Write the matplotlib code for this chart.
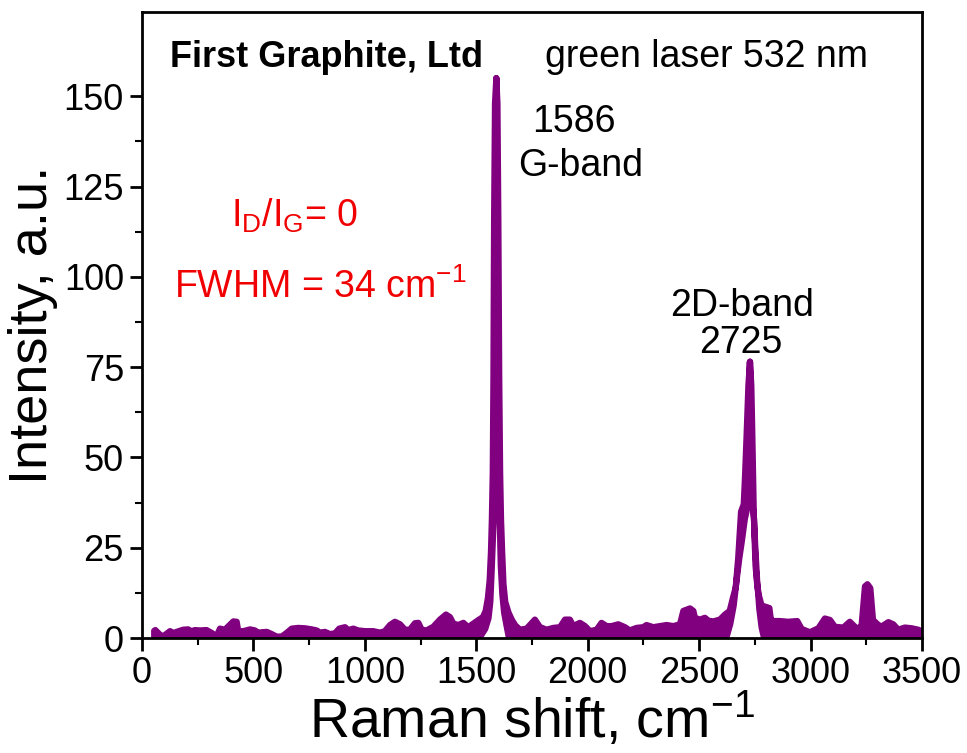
import matplotlib
matplotlib.use("Agg")
import matplotlib.pyplot as plt
import numpy as np

plt.rcParams.update({
    "font.family": "sans-serif",
    "font.sans-serif": ["Liberation Sans", "Arial", "DejaVu Sans"],
    "mathtext.fontset": "custom",
    "mathtext.rm": "Liberation Sans",
    "mathtext.it": "Liberation Sans",
})

PURPLE = "#800080"
RED = "#f00000"

# upper envelope of the noisy spectrum
upper_x = [55, 60, 81, 96, 126, 141, 185, 207, 222, 238, 260, 290, 313, 335, 350,
           372, 387, 410, 425, 432, 455, 485, 507, 522, 537, 560, 582, 604, 627, 649,
           672, 701, 731, 761, 784, 799, 821, 843, 866, 885, 911, 926, 948, 970, 1001,
           1038, 1068, 1090, 1113, 1135, 1158, 1180, 1202, 1225, 1240, 1255, 1277, 1307,
           1337, 1364, 1382, 1397, 1419, 1442, 1464, 1487, 1510, 1530, 1542, 1552, 1560,
           1566, 1570, 1574, 1577, 1580, 1584, 1590, 1595, 1599, 1603, 1607, 1611, 1616,
           1622, 1630, 1645, 1660, 1675, 1696, 1726, 1763, 1786, 1816, 1845, 1876, 1898,
           1920, 1935, 1965, 1988, 2010, 2040, 2062, 2085, 2107, 2137, 2167, 2189, 2219,
           2249, 2264, 2294, 2324, 2354, 2384, 2414, 2429, 2459, 2474, 2481, 2503, 2526,
           2541, 2563, 2593, 2616, 2637, 2651, 2664, 2675, 2683, 2688, 2700, 2706, 2714,
           2721, 2728, 2734, 2738, 2742, 2745, 2749, 2753, 2760, 2767, 2780, 2805, 2815,
           2822, 2832, 2860, 2900, 2940, 2960, 2997, 3035, 3064, 3087, 3109, 3147, 3176,
           3199, 3214, 3229, 3244, 3255, 3268, 3280, 3304, 3319, 3349, 3371, 3393, 3423,
           3453, 3483, 3500]
upper_y = [2.0, 2.2, 0.9, 0.5, 1.9, 1.4, 2.3, 2.4, 1.9, 2.2, 2.1, 2.2, 1.4, 0.5, 2.6,
           2.3, 3.2, 4.6, 4.5, 1.9, 1.9, 2.4, 2.1, 1.4, 1.6, 1.7, 1.1, 0.4, 0.4, 1.4,
           2.6, 2.8, 2.7, 2.4, 2.1, 1.5, 1.7, 1.1, 1.3, 2.6, 3.0, 2.2, 2.6, 2.1, 1.9,
           1.9, 1.5, 1.9, 3.6, 4.5, 3.8, 2.3, 2.3, 4.1, 4.2, 2.3, 2.1, 3.1,
           5.1, 6.5, 5.8, 4.0, 3.6, 4.2, 3.0, 4.0, 5.0, 5.8, 7.5, 11, 16,
           24, 33, 46, 72, 116, 148, 155, 148, 116, 72, 46, 33, 24,
           15, 10, 7.0, 5.0, 3.5, 2.3, 2.6, 5.1, 3.0, 2.3, 2.8, 3.0, 5.1,
           5.1, 3.3, 4.2, 3.3, 1.9, 2.3, 4.2, 3.3, 3.3, 3.8, 3.0, 2.1, 2.8,
           3.0, 3.6, 3.0, 3.3, 3.6, 3.3, 3.8, 7.5, 8.2, 7.5, 5.6, 5.1, 5.6,
           4.8, 4.6, 5.1, 6.5, 7.5, 11, 14, 22, 30, 35, 37, 45, 58,
           70, 76.5, 70, 58, 45, 35, 27, 20, 15, 12, 9.0, 8.5, 8.3,
           5.0, 4.7, 4.7, 4.5, 4.7, 2.5, 1.6, 2.7, 5.4, 5.0, 3.1, 2.9, 4.5,
           3.1, 2.5, 3.6, 14.3, 14.9, 13.8, 5.0, 3.6, 3.2, 4.4, 3.8, 2.3, 2.9,
           2.7, 2.3, 1.8]

# lower envelope of the noise band
lower_x = [55, 1517, 1540, 1555, 1563, 1570, 1578, 1582, 1585, 1590, 1594, 1598, 1605,
           1610, 1617, 1625, 1634, 1645, 2450, 2455, 2465, 2470, 2605, 2624, 2640, 2655,
           2668, 2680, 2692, 2705, 2716, 2722, 2728, 2733, 2741, 2746, 2752, 2760, 2770,
           2780, 2790, 3500]
lower_y = [0, 0.3, 2.5, 5.5, 10, 20, 33, 72, 116, 155, 116, 72, 33,
           20, 12, 7, 4, 0.5, 0, 2, 2, 0, 0, 0.5, 4, 9,
           16, 22, 27, 33, 36, 60, 76.5, 60, 36, 33, 25, 16, 8,
           3, 0.3, 0]

fig = plt.figure(figsize=(9.67, 7.53), dpi=100)
ax = fig.add_axes([0.1468, 0.1527, 0.8067, 0.8313])

band_x = np.r_[upper_x, lower_x[::-1]]
band_y = np.r_[upper_y, lower_y[::-1]]
ax.fill(band_x, band_y, facecolor=PURPLE, edgecolor=PURPLE, linewidth=4.5,
        joinstyle="round")

ax.set_xlim(0, 3500)
ax.set_ylim(0, 173.3)
ax.set_xticks(np.arange(0, 3501, 500))
ax.set_xticks(np.arange(0, 3501, 250), minor=True)
ax.set_yticks(np.arange(0, 151, 25))
ax.set_yticks(np.arange(0, 160, 12.5), minor=True)
ax.tick_params(which="major", direction="out", length=9, width=2, labelsize=26,
               top=False, right=False, pad=4)
ax.tick_params(which="minor", direction="out", length=5, width=1.5,
               top=False, right=False)
for s in ax.spines.values():
    s.set_linewidth(2)

ax.set_xlabel("Raman shift, cm$^{-1}$", fontsize=40, labelpad=0)
ax.set_ylabel("Intensity, a.u.", fontsize=39, labelpad=4)

ax.text(126, 160.8, "First Graphite, Ltd", fontsize=26, fontweight="bold",
        ha="left", va="center")
ax.text(1808, 160.8, "green laser 532 nm", fontsize=27, ha="left", va="center")
ax.text(1938, 142.8, "1586", fontsize=27, ha="center", va="center")
ax.text(1970, 130.6, "G-band", fontsize=27, ha="center", va="center")
ax.text(2692, 91.9, "2D-band", fontsize=27, ha="center", va="center")
ax.text(2688, 81.6, "2725", fontsize=27, ha="center", va="center")
ax.text(687, 117, "I$_\\mathregular{D}$/I$_\\mathregular{G}$= 0", fontsize=27,
        color=RED, ha="center", va="center")
ax.text(799, 97, "FWHM = 34 cm$^{-1}$", fontsize=27, color=RED,
        ha="center", va="center")

fig.savefig("out.png", dpi=100)
